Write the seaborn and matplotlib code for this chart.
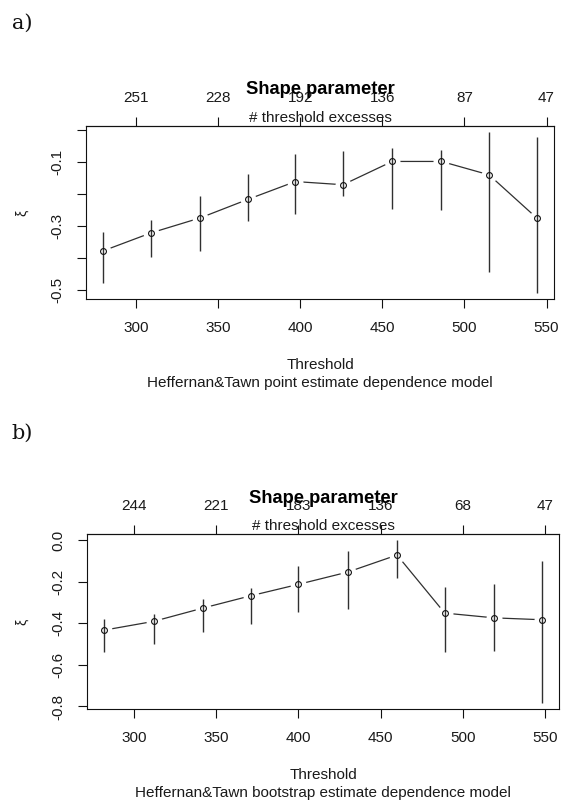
import numpy as np
import pandas as pd
import matplotlib
matplotlib.use("Agg")
import matplotlib.pyplot as plt
import seaborn as sns

# ---------------- data ----------------
thr_a = [280, 309, 339, 368, 397, 426, 456, 486, 515, 544]
est_a = [-0.378, -0.322, -0.275, -0.217, -0.161, -0.171, -0.098, -0.098, -0.140, -0.275]
lo_a = [-0.478, -0.397, -0.379, -0.286, -0.262, -0.207, -0.247, -0.250, -0.445, -0.509]
hi_a = [-0.319, -0.281, -0.205, -0.137, -0.076, -0.066, -0.055, -0.062, -0.007, -0.021]

thr_b = [282, 312, 342, 371, 400, 430, 460, 489, 519, 548]
est_b = [-0.433, -0.391, -0.327, -0.268, -0.213, -0.154, -0.072, -0.351, -0.374, -0.383]
lo_b = [-0.540, -0.498, -0.441, -0.402, -0.345, -0.333, -0.180, -0.537, -0.531, -0.781]
hi_b = [-0.380, -0.354, -0.284, -0.229, -0.125, -0.051, -0.002, -0.226, -0.212, -0.101]

xticks = [300, 350, 400, 450, 500, 550]
counts_a = ["251", "228", "192", "136", "87", "47"]
counts_b = ["244", "221", "183", "136", "68", "47"]

yticks_a = [0.0, -0.1, -0.2, -0.3, -0.4, -0.5]
ylabels_a = ["", "-0.1", "", "-0.3", "", "-0.5"]
yticks_b = [0.0, -0.2, -0.4, -0.6, -0.8]
ylabels_b = ["0.0", "-0.2", "-0.4", "-0.6", "-0.8"]

title = "Shape parameter"
top_label = "# threshold excesses"
xlabel = "Threshold"
sub_a = "Heffernan&Tawn point estimate dependence model"
sub_b = "Heffernan&Tawn bootstrap estimate dependence model"

# ---------------- style ----------------
sns.set_style("ticks")
plt.rcParams["font.family"] = ["Liberation Sans", "DejaVu Sans"]

W, H = 562, 800
fig = plt.figure(figsize=(W / 100, H / 100), dpi=100)

TXT = "#1a1a1a"
LINE = "#303030"


def rlim(vals):
    lo, hi = min(vals), max(vals)
    pad = 0.04 * (hi - lo)
    return lo - pad, hi + pad


def panel(box, thr, est, lo, hi, counts, yt, yl, sub, letter, letter_y):
    left, top, right, bottom = box
    ax = fig.add_axes([left / W, 1 - bottom / H, (right - left) / W, (bottom - top) / H])
    df = pd.DataFrame({"thr": thr, "est": est, "lo": lo, "hi": hi})

    sns.lineplot(data=df, x="thr", y="est", ax=ax, color=LINE, lw=0.9,
                 estimator=None, sort=False, zorder=2)
    # white gaps around points (R type="b")
    ax.plot(df["thr"], df["est"], "o", ms=11.5, mfc="white", mec="none", ls="none", zorder=3)
    ax.vlines(df["thr"], df["lo"], df["hi"], color=LINE, lw=1.0, zorder=4)
    ax.plot(df["thr"], df["est"], "o", ms=4.2, mfc="none", mec="#111111", mew=0.8,
            ls="none", zorder=5)

    ax.set_xlim(*rlim(list(thr)))
    ax.set_ylim(*rlim(list(lo) + list(hi)))
    ax.set_xlabel("")
    ax.set_ylabel("")

    ax.set_xticks(xticks, labels=[str(t) for t in xticks])
    ax.set_yticks(yt, labels=yl)
    ax.tick_params(axis="x", direction="out", length=6.5, width=0.8, labelsize=11,
                   pad=9, colors="#111111", labelcolor=TXT, top=False)
    ax.tick_params(axis="y", direction="out", length=6.5, width=0.8, labelsize=11,
                   pad=9, colors="#111111", labelcolor=TXT, right=False)
    for lab in ax.get_yticklabels():
        lab.set_rotation(90)
        lab.set_va("center")

    for sp in ax.spines.values():
        sp.set_visible(True)
        sp.set_color("#111111")
        sp.set_linewidth(0.8)

    sec = ax.secondary_xaxis("top")
    sec.set_xticks(xticks, labels=counts)
    sec.tick_params(direction="out", length=6.5, width=0.8, labelsize=11, pad=8.5,
                    colors="#111111", labelcolor=TXT)
    sec.spines["top"].set_color("#111111")
    sec.spines["top"].set_linewidth(0.8)

    cx = (left + right) / 2 / W
    fig.text(cx, 1 - (top - 36) / H, title, ha="center", va="center",
             fontsize=13.2, fontweight="bold", color="#000000", zorder=10)
    fig.text(cx, 1 - (top - 7.5) / H, top_label, ha="center", va="center",
             fontsize=11, color=TXT)
    fig.text(cx, 1 - (bottom + 66) / H, xlabel, ha="center", va="center",
             fontsize=11, color=TXT)
    fig.text(cx, 1 - (bottom + 84) / H, sub, ha="center", va="center",
             fontsize=11, color=TXT)
    fig.text(21.5 / W, 1 - (top + bottom) / 2 / H, "ξ", rotation=90, ha="center",
             va="center", fontsize=10, color=TXT)
    fig.text(22.5 / W, 1 - letter_y / H, letter, ha="center", va="center",
             fontsize=15, family="DejaVu Serif", color="#111111")
    return ax


panel((86, 126, 554, 299), thr_a, est_a, lo_a, hi_a, counts_a,
      yticks_a, ylabels_a, sub_a, "a)", 23.5)
panel((86.7, 534, 559.3, 709), thr_b, est_b, lo_b, hi_b, counts_b,
      yticks_b, ylabels_b, sub_b, "b)", 433)

fig.savefig("out.png", dpi=100, facecolor="white")
